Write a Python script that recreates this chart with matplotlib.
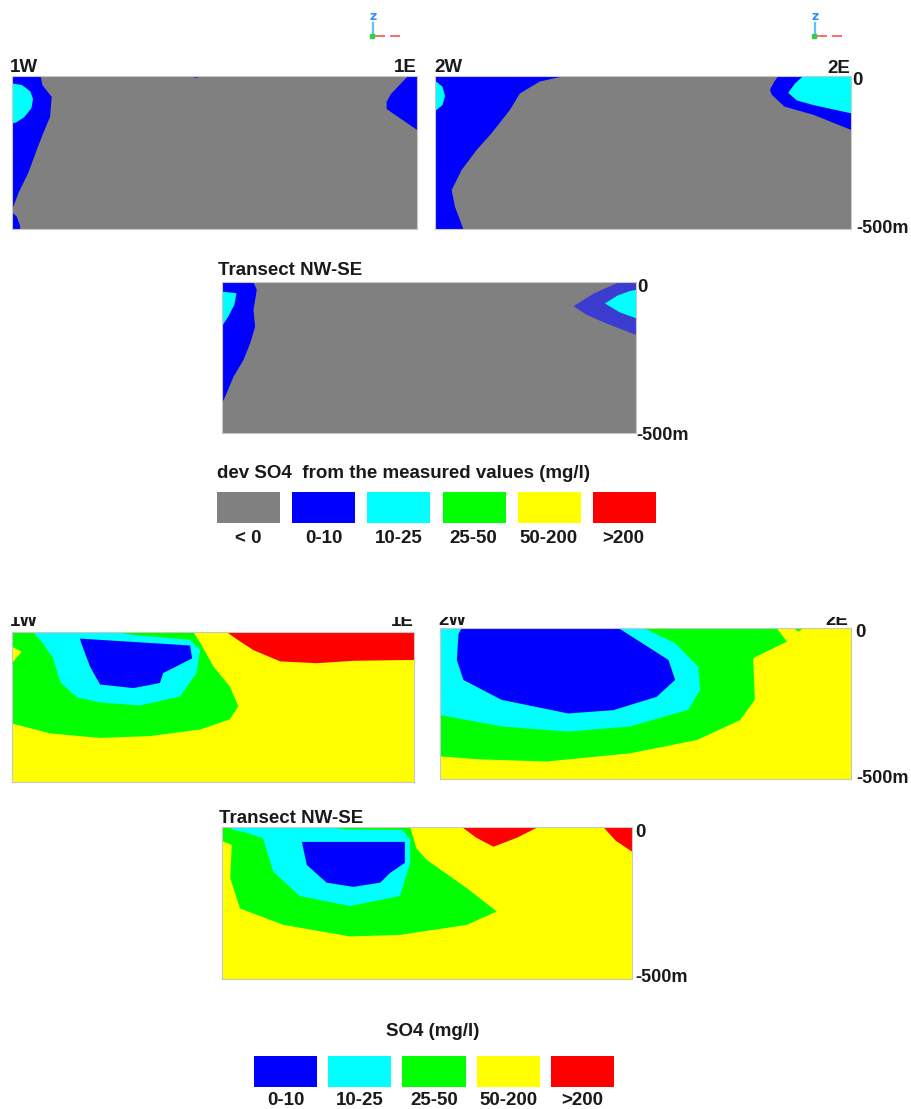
import numpy as np
import matplotlib as mpl
mpl.use('Agg')
from matplotlib import pyplot as plt
from matplotlib.patches import Rectangle

W, H = 912, 1109

# class colours
GRAY, BLUE, CYAN, GREEN, YELLOW, RED = '#808080', '#0000ff', '#00ffff', '#00ff00', '#ffff00', '#ff0000'
INDIGO = '#3c3cd0'

dev_classes = ['< 0', '0-10', '10-25', '25-50', '50-200', '>200']
dev_colors = [GRAY, BLUE, CYAN, GREEN, YELLOW, RED]
so4_classes = ['0-10', '10-25', '25-50', '50-200', '>200']
so4_colors = [BLUE, CYAN, GREEN, YELLOW, RED]

# polygons: (fraction along section, depth m)
# deviation, section 1W-1E
a_blue_w = [(0, 0), (0.071, 0), (0.075, -30), (0.098, -68), (0.094, -133), (0.077, -187), (0.061, -242),
            (0.040, -317), (0.016, -382), (0.003, -428), (0, -440)]
a_blue_w2 = [(0, -445), (0.012, -460), (0.02, -490), (0.02, -500), (0, -500)]
a_cyan_w = [(0, -24), (0.025, -30), (0.045, -50), (0.052, -75), (0.048, -105), (0.03, -135), (0.01, -152), (0, -155)]
a_blue_e = [(0.978, 0), (1, 0), (1, -176), (0.925, -108), (0.925, -85), (0.935, -60), (0.96, -25)]
a_blue_top = [(0.44, 0), (0.47, 0), (0.455, -6)]

# deviation, section 2W-2E
b_blue_w = [(0, 0), (0.3125, 0), (0.252, -18), (0.204, -57), (0.18, -111), (0.136, -187), (0.10, -242),
            (0.064, -307), (0.04, -373), (0.048, -427), (0.068, -500), (0, -500)]
b_cyan_w = [(0, -15), (0.018, -35), (0.024, -65), (0.018, -95), (0, -115)]
b_blue_e = [(0.825, 0), (1, 0), (1, -176), (0.91, -127), (0.84, -100), (0.81, -62), (0.805, -45), (0.815, -20)]
b_cyan_e = [(0.885, 0), (1, 0), (1, -122), (0.91, -95), (0.87, -80), (0.849, -55), (0.865, -25)]

# deviation, transect NW-SE
c_blue_w = [(0, 0), (0.076, 0), (0.084, -26), (0.076, -93), (0.08, -148), (0.068, -203), (0.052, -258),
            (0.028, -313), (0.011, -369), (0, -402)]
c_cyan_w = [(0, -32), (0.035, -37), (0.03, -75), (0.015, -115), (0, -146)]
c_indigo_e = [(0.961, 0), (1, 0), (1, -175), (0.937, -142), (0.881, -109), (0.849, -80), (0.897, -39), (0.94, -12)]
c_cyan_e = [(1, -26), (1, -120), (0.96, -100), (0.925, -71), (0.955, -45), (0.985, -30)]

# SO4, section 1W-1E
d_red = [(0.534, 0), (1, 0), (1, -93), (0.849, -96), (0.758, -104), (0.667, -98), (0.6, -60), (0.56, -25)]
d_green = [(0, 0), (0.451, 0), (0.47, -40), (0.501, -115), (0.542, -182), (0.563, -248), (0.542, -291),
           (0.468, -325), (0.343, -347), (0.219, -353), (0.095, -338), (0, -305)]
d_yellow_w = [(0, -49), (0.024, -66), (0, -104)]
d_cyan = [(0.052, 0), (0.26, 0), (0.3, -10), (0.443, -26), (0.468, -60), (0.459, -137), (0.418, -215),
          (0.318, -245), (0.219, -235), (0.16, -217), (0.12, -167), (0.102, -87), (0.075, -35)]
d_blue = [(0.169, -22), (0.443, -45), (0.448, -88), (0.376, -137), (0.368, -170), (0.302, -187),
          (0.219, -175), (0.194, -115), (0.173, -40)]

# SO4, section 2W-2E
e_green = [(0, 0), (0.819, 0), (0.844, -45), (0.787, -83), (0.762, -100), (0.766, -238), (0.73, -305),
           (0.625, -371), (0.462, -415), (0.26, -442), (0.097, -435), (0, -425)]
e_green_dot = [(0.86, 0), (0.885, 0), (0.872, -12)]
e_cyan = [(0, 0), (0.495, 0), (0.572, -50), (0.628, -128), (0.633, -205), (0.604, -271), (0.462, -326),
          (0.312, -343), (0.15, -326), (0, -288)]
e_blue = [(0.053, 0), (0.434, 0), (0.556, -106), (0.572, -172), (0.527, -228), (0.422, -272), (0.312, -283),
          (0.15, -238), (0.057, -172), (0.041, -106), (0.045, -20)]

# SO4, transect NW-SE
f_red1 = [(0.585, 0), (0.771, 0), (0.72, -35), (0.662, -65), (0.62, -35)]
f_red2 = [(0.93, 0), (1, 0), (1, -81), (0.96, -45)]
f_green = [(0, 0), (0.459, 0), (0.474, -70), (0.499, -108), (0.597, -201), (0.67, -278), (0.597, -322),
           (0.434, -355), (0.312, -360), (0.15, -322), (0.044, -268), (0.02, -168), (0.024, -59), (0, -46)]
f_cyan = [(0.03, 0), (0.26, 0), (0.3, -8), (0.44, -10), (0.459, -40), (0.459, -118), (0.434, -227),
          (0.312, -260), (0.19, -227), (0.125, -147), (0.1, -37), (0.05, -15), (0.02, -8)]
f_blue = [(0.195, -49), (0.446, -49), (0.446, -118), (0.41, -151), (0.386, -183), (0.32, -197),
          (0.255, -183), (0.207, -125), (0.198, -70)]

depth_min = -500

fig = plt.figure(figsize=(W / 100, H / 100), dpi=100)
fig.patch.set_facecolor('white')


def rect(l, t, r, b):
    return [l / W, 1 - b / H, (r - l) / W, (b - t) / H]


def fx(x):
    return x / W


def fy(y):
    return 1 - y / H


TXT = dict(fontweight='bold', color='#1a1a1a', family=['Liberation Sans', 'DejaVu Sans'], va='baseline')

panels = [
    # box (l, t, r, b), base colour, layers
    ((12, 76, 417, 229), GRAY, [(a_blue_w, BLUE), (a_blue_w2, BLUE), (a_cyan_w, CYAN), (a_blue_e, BLUE), (a_blue_top, BLUE)]),
    ((435, 76, 851, 229), GRAY, [(b_blue_w, BLUE), (b_cyan_w, CYAN), (b_blue_e, BLUE), (b_cyan_e, CYAN)]),
    ((222, 282, 636, 433), GRAY, [(c_blue_w, BLUE), (c_cyan_w, CYAN), (c_indigo_e, INDIGO), (c_cyan_e, CYAN)]),
    ((12, 632, 414, 782), YELLOW, [(d_red, RED), (d_green, GREEN), (d_yellow_w, YELLOW), (d_cyan, CYAN), (d_blue, BLUE)]),
    ((440, 628, 851, 779), YELLOW, [(e_green, GREEN), (e_green_dot, GREEN), (e_cyan, CYAN), (e_blue, BLUE)]),
    ((222, 827, 632, 979), YELLOW, [(f_red1, RED), (f_red2, RED), (f_green, GREEN), (f_cyan, CYAN), (f_blue, BLUE)]),
]

for box, base, layers in panels:
    ax = fig.add_axes(rect(*box))
    ax.set_facecolor(base)
    for poly, col in layers:
        xs, zs = zip(*poly)
        ax.fill(xs, zs, color=col, lw=0)
    ax.set_xlim(0, 1)
    ax.set_ylim(depth_min, 0)
    ax.set_xticks([])
    ax.set_yticks([])
    for s in ax.spines.values():
        s.set_color('#c8c8c8')
        s.set_linewidth(0.8)

# section labels
fs = 13.5
fig.text(fx(10), fy(72), '1W', ha='left', fontsize=fs, **TXT)
fig.text(fx(417), fy(72), '1E', ha='right', fontsize=fs, **TXT)
fig.text(fx(434), fy(72), '2W', ha='left', fontsize=fs, **TXT)
fig.text(fx(850), fy(73), '2E', ha='right', fontsize=fs, **TXT)
fig.text(fx(852), fy(85), '0', ha='left', fontsize=fs, **TXT)
fig.text(fx(856), fy(233), '-500m', ha='left', fontsize=fs - 0.5, **TXT)

fig.text(fx(218), fy(275), 'Transect NW-SE', ha='left', fontsize=fs, **TXT)
fig.text(fx(637), fy(292), '0', ha='left', fontsize=fs, **TXT)
fig.text(fx(636), fy(440), '-500m', ha='left', fontsize=fs - 0.5, **TXT)

# lower block labels are cut at the top in the original
clip = Rectangle((0, 0), 1, fy(617), transform=fig.transFigure, visible=False)
fig.add_artist(clip)
for x, y, s, ha in [(10, 626, '1W', 'left'), (414, 626, '1E', 'right'), (438, 625, '2W', 'left'), (848, 625, '2E', 'right')]:
    t = fig.text(fx(x), fy(y), s, ha=ha, fontsize=fs, **TXT)
    t.set_clip_path(clip)
fig.text(fx(855), fy(637), '0', ha='left', fontsize=fs, **TXT)
fig.text(fx(856), fy(783), '-500m', ha='left', fontsize=fs - 0.5, **TXT)

fig.text(fx(219), fy(823), 'Transect NW-SE', ha='left', fontsize=fs, **TXT)
fig.text(fx(635), fy(837), '0', ha='left', fontsize=fs, **TXT)
fig.text(fx(635), fy(982), '-500m', ha='left', fontsize=fs - 0.5, **TXT)

# legends
fig.text(fx(217), fy(478), 'dev SO4  from the measured values (mg/l)', ha='left', fontsize=fs, **TXT)
lg1 = fig.add_axes(rect(217, 492, 656, 523))
lg1.bar(range(len(dev_classes)), 1, width=0.84, color=dev_colors)
lg1.set_xlim(-0.42, len(dev_classes) - 1 + 0.42)
lg1.set_ylim(0, 1)
lg1.axis('off')
for i, lab in enumerate(dev_classes):
    fig.text(fx(217 + 31.5 + 75 * i), fy(543), lab, ha='center', fontsize=fs, **TXT)

fig.text(fx(433), fy(1036), 'SO4 (mg/l)', ha='center', fontsize=fs, **TXT)
lg2 = fig.add_axes(rect(254, 1056, 614, 1087))
lg2.bar(range(len(so4_classes)), 1, width=0.85, color=so4_colors)
lg2.set_xlim(-0.425, len(so4_classes) - 1 + 0.425)
lg2.set_ylim(0, 1)
lg2.axis('off')
for i, lab in enumerate(so4_classes):
    fig.text(fx(254 + 31.5 + 74.2 * i), fy(1105), lab, ha='center', fontsize=fs, **TXT)

# small orientation icons above the upper sections
for x0 in (373, 815):
    ic = fig.add_axes(rect(x0 - 6, 6, x0 + 34, 40))
    ic.set_xlim(0, 40)
    ic.set_ylim(34, 0)
    ic.axis('off')
    ic.plot([6, 6], [17, 30], color='#60c0ff', lw=1.6)
    ic.text(6, 10, 'z', color='#2f8fff', fontsize=9, ha='center', va='center', fontweight='bold')
    ic.plot([8, 36], [30, 30], color='#ff5050', lw=1.2, ls=(0, (6, 3)))
    ic.plot([5], [30], 's', color='#30d040', ms=2.5)

plt.savefig('out.png', dpi=100)
